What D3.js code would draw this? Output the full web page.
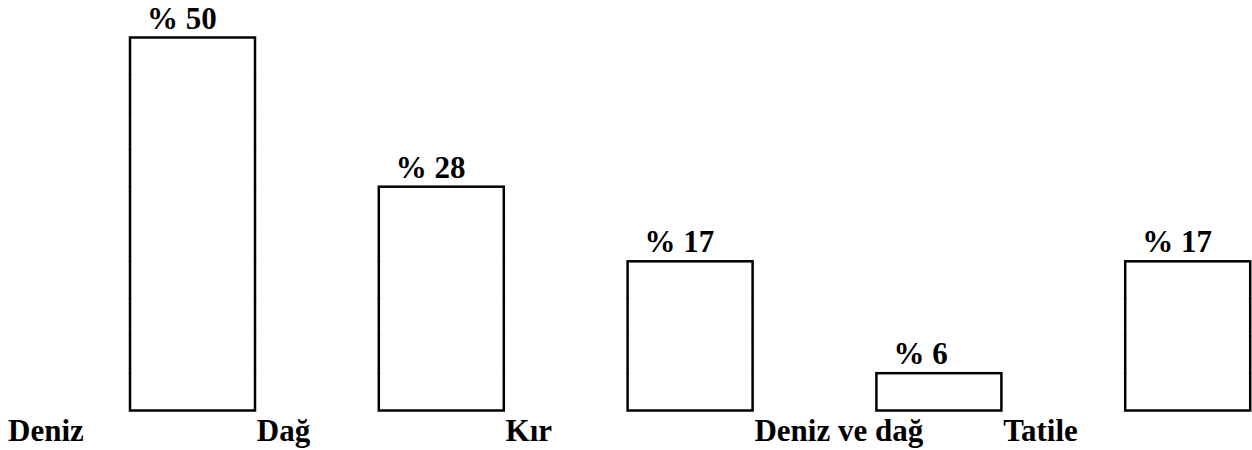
<!DOCTYPE html>
<html>
<head>
<meta charset="utf-8">
<script src="https://cdn.jsdelivr.net/npm/d3@7"></script>
<style>
  body { margin: 0; background: #fff; }
</style>
</head>
<body>
<div id="container"></div>
<script>
var w = 1252,
  h = 450;

// data
var categories = ['Deniz', 'Dağ', 'Kır', 'Deniz ve dağ', 'Tatile'];
var barValues = [50, 30, 20, 5, 20];
var barLabels = ['% 50', '% 28', '% 17', '% 6', '% 17'];
var tickValues = [5, 10, 15, 20, 25, 30, 35, 40, 45];

var font = "'Liberation Serif', 'Times New Roman', Times, serif";

var svg = d3.select('#container').append('svg')
  .attr('width', w)
  .attr('height', h);

var xScale = d3.scaleBand()
  .domain(categories)
  .range([0, 1244])
  .padding(0);

var yScale = d3.scaleLinear()
  .domain([0, 50])
  .range([410.5, 37.5]);

var barW = 125;
var rows = categories.map(function (c, i) {
  return { cat: c, value: barValues[i], label: barLabels[i] };
});

// faint grid marks visible only at the bar edges
var marks = svg.append('g').attr('class', 'marks');
rows.forEach(function (d) {
  var x0 = xScale(d.cat) + 130;
  tickValues.filter(function (t) { return t < d.value; }).forEach(function (t) {
    [x0, x0 + barW].forEach(function (ex) {
      marks.append('line')
        .attr('x1', ex - 2).attr('x2', ex + 2)
        .attr('y1', yScale(t)).attr('y2', yScale(t))
        .attr('stroke', '#c8c8c8')
        .attr('stroke-width', 1);
    });
  });
});

svg.append('g')
  .selectAll('rect')
  .data(rows)
  .enter()
  .append('rect')
  .attr('x', function (d) { return xScale(d.cat) + 130; })
  .attr('y', function (d) { return yScale(d.value); })
  .attr('width', barW)
  .attr('height', function (d) { return yScale(0) - yScale(d.value); })
  .attr('fill', 'none')
  .attr('stroke', '#000')
  .attr('stroke-width', 2.5);

svg.append('g')
  .selectAll('text')
  .data(rows)
  .enter()
  .append('text')
  .attr('x', function (d) { return xScale(d.cat) + 147; })
  .attr('y', function (d) { return yScale(d.value) - 9; })
  .style('font-family', font)
  .style('font-weight', '700')
  .style('font-size', '31px')
  .text(function (d) { return d.label; });

svg.append('g')
  .selectAll('text')
  .data(categories)
  .enter()
  .append('text')
  .attr('x', function (d) { return xScale(d) + 8; })
  .attr('y', 441)
  .style('font-family', font)
  .style('font-weight', '700')
  .style('font-size', '31px')
  .text(function (d) { return d; });
</script>
</body>
</html>
